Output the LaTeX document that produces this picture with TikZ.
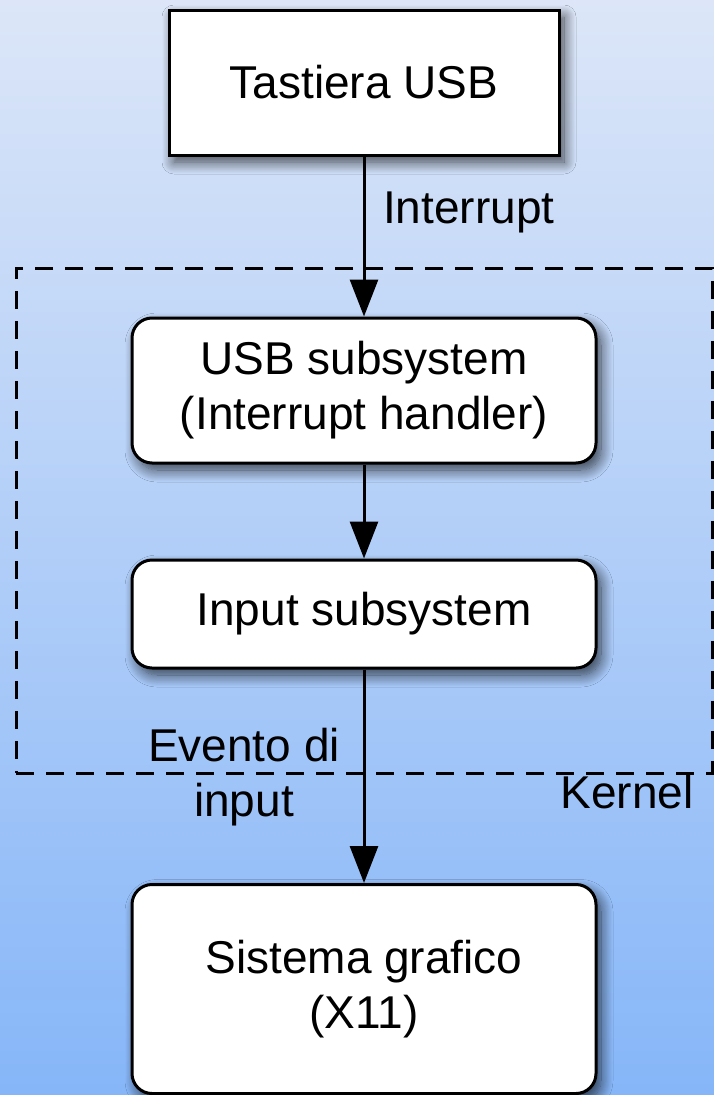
\documentclass[tikz,border=0pt]{standalone}
\usepackage{fontspec}
\setmainfont{Liberation Sans}
\usetikzlibrary{shadows.blur,arrows.meta}
\definecolor{bgtop}{RGB}{220,230,248}
\definecolor{bgbot}{RGB}{134,182,248}
\begin{document}
\begin{tikzpicture}[x=1pt,y=-1pt,
  txt/.style={font=\fontsize{46}{55}\selectfont, align=center, inner sep=0pt},
  box/.style={txt, draw, line width=3pt, fill=white, minimum width=464pt,
    blur shadow={shadow xshift=5pt, shadow yshift=-7pt, shadow blur steps=14, shadow blur radius=12pt, shadow opacity=70}},
  rbox/.style={box, rounded corners=20pt},
  conn/.style={line width=3pt, -{Triangle[length=37pt,width=28pt]}},
  kernelframe/.style={draw, line width=3pt, dash pattern=on 18pt off 12pt, inner sep=0pt}]
\shade[top color=bgtop, bottom color=bgbot] (0,0) rectangle (714,1095);
\useasboundingbox (0,0) rectangle (714,1095);
\node[kernelframe, minimum width=696pt, minimum height=505pt] (kernel) at (364,520.5) {};
\node[box, minimum width=390pt, minimum height=145pt] (usbkbd) at (364,82.5) {Tastiera USB};
\node[rbox, minimum height=145pt] (usbsub) at (364,390.5) {USB subsystem\\(Interrupt handler)};
\node[rbox, minimum height=108pt] (inputsub) at (364,614) {Input subsystem};
\node[rbox, minimum height=209pt] (xsys) at (364,989) {Sistema grafico\\(X11)};
\draw[conn] (usbkbd) -- (usbsub);
\draw[conn] (usbsub) -- (inputsub);
\draw[conn] (inputsub) -- (xsys);
\node[txt, anchor=west] (lint) at (383,212) {Interrupt};
\node[txt] (levt) at (244,777) {Evento di\\input};
\node[txt] (lkern) at (627,792) {Kernel};
\end{tikzpicture}
\end{document}
